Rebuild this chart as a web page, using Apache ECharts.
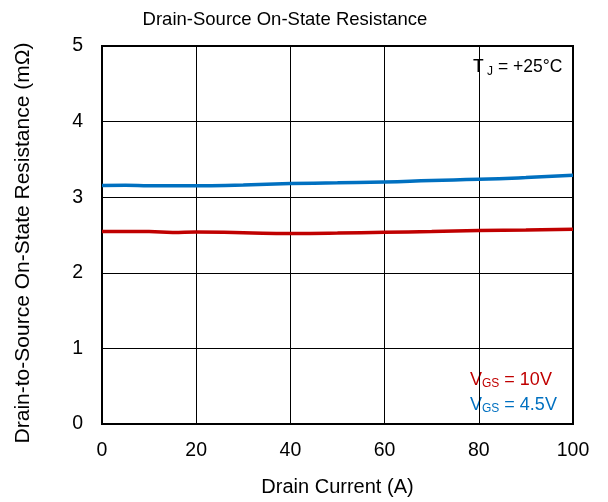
<!DOCTYPE html>
<html><head><meta charset="utf-8">
<script src="https://cdn.jsdelivr.net/npm/echarts@6/dist/echarts.min.js"></script>
<style>html,body{margin:0;padding:0;background:#fff}#c{width:608px;height:502px}</style>
</head><body><div id="c"></div>
<script>
const current = [0, 5, 10, 15, 20, 30, 40, 50, 60, 70, 80, 90, 100];
const vgs10 = [2.546, 2.545, 2.545, 2.532, 2.54, 2.53, 2.52, 2.525, 2.537, 2.545, 2.56, 2.565, 2.577];
const vgs45 = [3.156, 3.158, 3.153, 3.152, 3.15, 3.163, 3.18, 3.19, 3.20, 3.22, 3.236, 3.26, 3.29];
const xTicks = [0, 20, 40, 60, 80, 100];
const yTicks = [0, 1, 2, 3, 4, 5];
const F = 'Liberation Sans, Arial, sans-serif';
const chart = echarts.init(document.getElementById('c'));
chart.setOption({
  animation: false,
  backgroundColor: '#fff',
  title: {text: 'Drain-Source On-State Resistance', left: 280, top: 5, textAlign: 'center',
    textStyle: {fontFamily: F, fontSize: 18.5, fontWeight: 'normal', color: '#000'}},
  grid: {left: 102, right: 35, top: 46, bottom: 78, show: true, borderColor: '#000', borderWidth: 2},
  xAxis: {type: 'value', min: xTicks[0], max: xTicks[xTicks.length-1], interval: 20,
    name: 'Drain Current (A)', nameLocation: 'middle', nameGap: 53,
    nameTextStyle: {fontFamily: F, fontSize: 20, color: '#000'},
    axisLine: {show: false}, axisTick: {show: false},
    axisLabel: {fontFamily: F, fontSize: 19.5, color: '#000', margin: 17},
    splitLine: {show: true, lineStyle: {color: '#000', width: 1}}},
  yAxis: {type: 'value', min: yTicks[0], max: yTicks[yTicks.length-1], interval: 1,
    axisLine: {show: false}, axisTick: {show: false},
    axisLabel: {fontFamily: F, fontSize: 19.5, color: '#000', margin: 19},
    splitLine: {show: true, lineStyle: {color: '#000', width: 1}}},
  series: [
    {type: 'line', data: current.map((x,i)=>[x, vgs10[i]]), smooth: true, symbol: 'none',
      lineStyle: {color: '#C00000', width: 3.5}},
    {type: 'line', data: current.map((x,i)=>[x, vgs45[i]]), smooth: true, symbol: 'none',
      lineStyle: {color: '#0070C0', width: 3.5}}
  ],
  graphic: [
    {type: 'text', x: 23, y: 243, rotation: Math.PI/2, style: {
      text: 'Drain-to-Source On-State Resistance (mΩ)', fontFamily: F, fontSize: 21, fill: '#000',
      textAlign: 'center', textVerticalAlign: 'middle'}},
    {type: 'text', left: 473, top: 58, style: {rich: {
        a: {fontFamily: F, fontSize: 17.5, fill: '#000'},
        s: {fontFamily: F, fontSize: 12, fill: '#000', padding: [10,0,0,0]}},
      text: '{a|T}{s| J}{a| = +25°C}'}},
    {type: 'text', left: 470, top: 371, style: {rich: {
        a: {fontFamily: F, fontSize: 18, fill: '#C00000'},
        s: {fontFamily: F, fontSize: 12, fill: '#C00000', padding: [8,0,0,0]}},
      text: '{a|V}{s|GS}{a| = 10V}'}},
    {type: 'text', left: 470, top: 396, style: {rich: {
        a: {fontFamily: F, fontSize: 18, fill: '#0070C0'},
        s: {fontFamily: F, fontSize: 12, fill: '#0070C0', padding: [8,0,0,0]}},
      text: '{a|V}{s|GS}{a| = 4.5V}'}}
  ]
});
</script></body></html>
